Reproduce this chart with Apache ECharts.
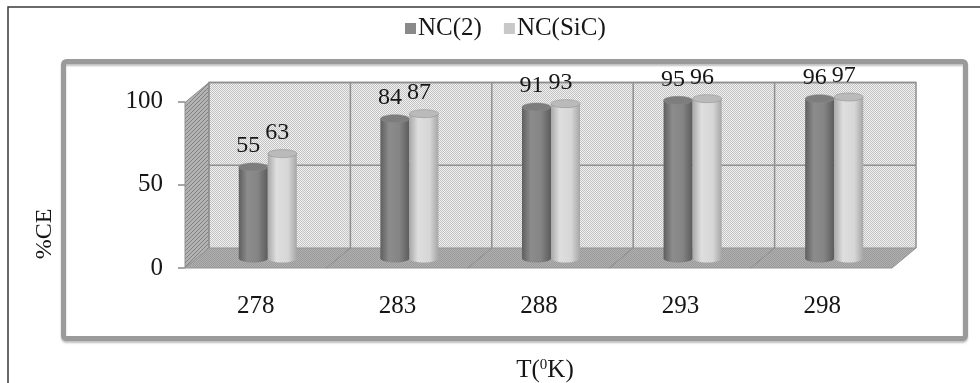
<!DOCTYPE html>
<html>
<head>
<meta charset="utf-8">
<script src="https://cdn.jsdelivr.net/npm/echarts@6/dist/echarts.min.js"></script>
<style>
  html, body { margin: 0; padding: 0; background: #ffffff; }
  #chart { width: 980px; height: 383px; }
</style>
</head>
<body>
<div id="chart"></div>
<script>
// Coulombic efficiency (%CE) against temperature for two cells
const temperatures = ['278', '283', '288', '293', '298'];
const nc2Values = [55, 84, 91, 95, 96];
const ncSicValues = [63, 87, 93, 96, 97];
const yTicks = [0, 50, 100];
const seriesNames = ['NC(2)', 'NC(SiC)'];

const FONT = "'Liberation Serif', 'Times New Roman', serif";
const TEXT = '#161616';
// front face of the 3D box sits this far from the back wall
const DEPTH_DX = -24, DEPTH_DY = 20;

function makePattern(size, paint) {
  const c = document.createElement('canvas');
  c.width = c.height = size;
  paint(c.getContext('2d'));
  return { image: c, repeat: 'repeat' };
}
const wallPattern = makePattern(2, ctx => {
  ctx.fillStyle = '#f1f1f1'; ctx.fillRect(0, 0, 2, 2);
  ctx.fillStyle = '#c2c2c2'; ctx.fillRect(0, 0, 1, 1); ctx.fillRect(1, 1, 1, 1);
});
const sidePattern = makePattern(4, ctx => {
  ctx.fillStyle = '#b3b3b3'; ctx.fillRect(0, 0, 4, 4);
  ctx.fillStyle = '#808080';
  for (let i = 0; i < 4; i++) ctx.fillRect(i, 3 - i, 1, 1);
});
const floorPattern = makePattern(2, ctx => {
  ctx.fillStyle = '#b0b0b0'; ctx.fillRect(0, 0, 2, 2);
  ctx.fillStyle = '#9a9a9a'; ctx.fillRect(0, 0, 1, 1); ctx.fillRect(1, 1, 1, 1);
});

const yMin = yTicks[0], yMax = yTicks[yTicks.length - 1], yStep = yTicks[1] - yTicks[0];

// back wall, left side wall and floor, drawn on the back grid's scales
function renderWalls(params, api) {
  const n = temperatures.length;
  const p = (x, y) => api.coord([x, y]);
  const f = pt => [pt[0] + DEPTH_DX, pt[1] + DEPTH_DY];
  const bl = p(0, yMin), br = p(n, yMin), tl = p(0, yMax), tr = p(n, yMax);
  const lineStyle = { stroke: '#8f8f8f', lineWidth: 1.5, fill: null };
  const children = [
    { type: 'rect', shape: { x: tl[0], y: tl[1], width: br[0] - tl[0], height: bl[1] - tl[1] },
      style: { fill: wallPattern } },
    { type: 'polygon', shape: { points: [tl, bl, f(bl), f(tl)] },
      style: { fill: sidePattern, stroke: '#8f8f8f', lineWidth: 1 } },
    { type: 'polygon', shape: { points: [bl, br, f(br), f(bl)] },
      style: { fill: floorPattern, stroke: '#949494', lineWidth: 1 } }
  ];
  // horizontal grid lines on the back wall
  for (let v = yMin + yStep; v <= yMax; v += yStep) {
    const a = p(0, v), b = p(n, v);
    children.push({ type: 'line', shape: { x1: a[0], y1: a[1], x2: b[0], y2: b[1] }, style: lineStyle });
  }
  // category dividers on the back wall and across the floor
  for (let i = 1; i < n; i++) {
    const a = p(i, yMin), b = p(i, yMax), c = f(a);
    children.push({ type: 'line', shape: { x1: a[0], y1: a[1], x2: b[0], y2: b[1] }, style: lineStyle });
    children.push({ type: 'line', shape: { x1: a[0], y1: a[1], x2: c[0], y2: c[1] },
      style: { stroke: '#8c8c8c', lineWidth: 1 } });
  }
  children.push({ type: 'polyline', shape: { points: [bl, tl, tr, br] }, style: lineStyle });
  return { type: 'group', children };
}

function cylinder(side, body, cap) {
  return function (params, api) {
    const idx = api.value(0), val = api.value(1);
    const top = api.coord([idx, val]);
    const base = api.coord([idx, 0]);
    const band = api.size([1, 0])[0];
    const w = band * 0.205;
    const x0 = side < 0 ? top[0] - w : top[0];
    const cx = x0 + w / 2, rx = w / 2, ry = 4;
    return {
      type: 'group',
      children: [
        { type: 'ellipse', shape: { cx, cy: base[1], rx, ry }, style: { fill: body } },
        { type: 'rect', shape: { x: x0, y: top[1], width: w, height: base[1] - top[1] }, style: { fill: body } },
        { type: 'ellipse', shape: { cx, cy: top[1], rx, ry }, style: { fill: cap, stroke: '#8a8a8a', lineWidth: 0.5 } },
        { type: 'text', x: cx - 5, y: top[1] - 9,
          style: { text: String(val), align: 'center', verticalAlign: 'bottom',
                   font: '24px ' + FONT, fill: TEXT } }
      ]
    };
  };
}

const darkBody = { type: 'linear', x: 0, y: 0, x2: 1, y2: 0, colorStops: [
  { offset: 0, color: '#5f5f5f' }, { offset: 0.3, color: '#8c8c8c' },
  { offset: 0.65, color: '#858585' }, { offset: 1, color: '#5c5c5c' } ] };
const lightBody = { type: 'linear', x: 0, y: 0, x2: 1, y2: 0, colorStops: [
  { offset: 0, color: '#a9a9a9' }, { offset: 0.3, color: '#dedede' },
  { offset: 0.7, color: '#d6d6d6' }, { offset: 1, color: '#a6a6a6' } ] };

const chart = echarts.init(document.getElementById('chart'), null, { renderer: 'canvas' });

chart.setOption({
  animation: false,
  backgroundColor: '#ffffff',
  color: ['#8a8a8a', '#c8c8c8'],
  legend: {
    data: seriesNames,
    left: 405, top: 16,
    padding: 0,
    itemGap: 22,
    itemWidth: 11, itemHeight: 11,
    icon: 'rect',
    textStyle: { fontFamily: FONT, fontSize: 25, color: TEXT, padding: [0, 0, 0, -3] }
  },
  grid: [
    { left: 185, top: 101.5, width: 708, height: 166.5 },  // front face: axes
    { left: 209, top: 82.5, width: 707, height: 165.5 },   // back wall
    { left: 197, top: 92, width: 708, height: 166.5 }      // mid depth: cylinders
  ],
  xAxis: [
    { gridIndex: 0, type: 'category', data: temperatures,
      axisLine: { show: false }, axisTick: { show: false }, splitLine: { show: false },
      axisLabel: { margin: 26, fontFamily: FONT, fontSize: 25, color: TEXT } },
    { gridIndex: 1, type: 'value', min: 0, max: temperatures.length, show: false },
    { gridIndex: 2, type: 'category', data: temperatures, show: false }
  ],
  yAxis: [
    { gridIndex: 0, type: 'value', min: yMin, max: yMax, interval: yStep,
      axisLine: { show: false },
      axisTick: { show: true, length: 7, lineStyle: { color: '#8a8a8a', width: 1.5 } },
      splitLine: { show: false },
      axisLabel: { margin: 22, fontFamily: FONT, fontSize: 25, color: TEXT } },
    { gridIndex: 1, type: 'value', min: yMin, max: yMax, show: false },
    { gridIndex: 2, type: 'value', min: yMin, max: yMax, show: false }
  ],
  series: [
    { type: 'custom', name: 'walls', xAxisIndex: 1, yAxisIndex: 1, z: 1, silent: true,
      data: [[0, 0]], renderItem: renderWalls },
    { type: 'custom', name: seriesNames[0], xAxisIndex: 2, yAxisIndex: 2, z: 3,
      itemStyle: { color: '#8a8a8a' },
      data: nc2Values.map((v, i) => [i, v]), encode: { x: 0, y: 1 },
      renderItem: cylinder(-1, darkBody, '#7d7d7d') },
    { type: 'custom', name: seriesNames[1], xAxisIndex: 2, yAxisIndex: 2, z: 3,
      itemStyle: { color: '#c8c8c8' },
      data: ncSicValues.map((v, i) => [i, v]), encode: { x: 0, y: 1 },
      renderItem: cylinder(1, lightBody, '#bababa') }
  ],
  graphic: [
    { type: 'rect', silent: true, z: 0,
      shape: { x: 8, y: 7, width: 1000, height: 400 },
      style: { fill: null, stroke: '#3a3a3a', lineWidth: 1.5 } },
    { type: 'rect', silent: true, z: 0,
      shape: { x: 63.5, y: 61.5, width: 902, height: 277, r: 3 },
      style: { fill: null, stroke: '#9a9a9a', lineWidth: 5,
               shadowColor: 'rgba(0,0,0,0.25)', shadowBlur: 2, shadowOffsetY: 2 } },
    { type: 'text', silent: true, x: 45, y: 234, rotation: Math.PI / 2,
      style: { text: '%CE', font: '24px ' + FONT, fill: TEXT, align: 'center', verticalAlign: 'middle' } },
    { type: 'text', silent: true, x: 545, y: 370,
      style: { text: 'T({sup|0}K)', font: '25px ' + FONT, fontFamily: FONT, fontSize: 25, fill: TEXT,
               align: 'center', verticalAlign: 'middle',
               rich: { sup: { fontFamily: FONT, fontSize: 15, fill: TEXT, verticalAlign: 'top', padding: [0, 0, 8, 0] } } } }
  ]
});
</script>
</body>
</html>
